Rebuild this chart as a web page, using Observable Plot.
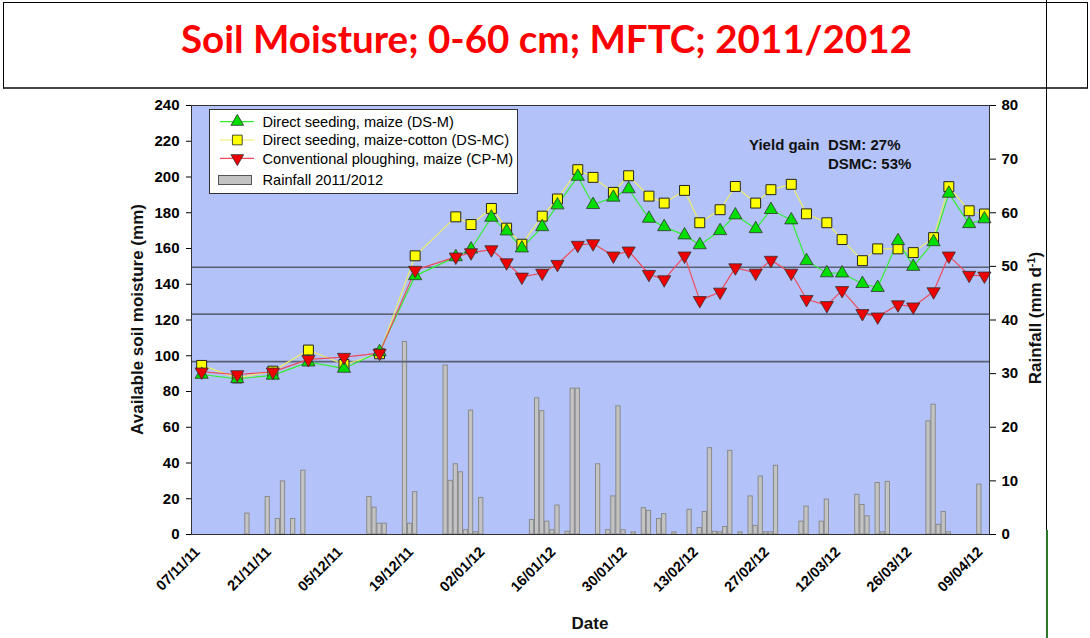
<!DOCTYPE html>
<html><head><meta charset="utf-8">
<script src="https://cdn.jsdelivr.net/npm/d3@7"></script>
<script src="https://cdn.jsdelivr.net/npm/@observablehq/plot@0.6"></script>
<style>
html,body{margin:0;padding:0;background:#fff;}
body{width:1090px;height:638px;overflow:hidden;position:relative;font-family:"Liberation Sans",Arial,sans-serif;}
#titlebox{position:absolute;left:3px;top:2px;width:1085px;height:87px;border:1px solid #000;border-bottom:2px solid #444;box-sizing:border-box;}
#chart{position:absolute;left:0;top:90px;}
#overlay{position:absolute;left:0;top:0;pointer-events:none;}
#vline{position:absolute;left:1046px;top:0;width:1px;height:530px;background:#000;}
#gline{position:absolute;left:1046px;top:530px;width:2px;height:108px;background:#2a7a2a;}
</style></head><body>
<div id="titlebox"></div>
<div id="vline"></div><div id="gline"></div>
<div id="chart"></div>
<svg id="overlay" width="1090" height="638"></svg>
<script>
// ---- data ----
const moistDates = ["2011-11-09","2011-11-16","2011-11-23","2011-11-30","2011-12-07","2011-12-14","2011-12-21","2011-12-29","2012-01-01","2012-01-05","2012-01-08","2012-01-11","2012-01-15","2012-01-18","2012-01-22","2012-01-25","2012-01-29","2012-02-01","2012-02-05","2012-02-08","2012-02-12","2012-02-15","2012-02-19","2012-02-22","2012-02-26","2012-02-29","2012-03-04","2012-03-07","2012-03-11","2012-03-14","2012-03-18","2012-03-21","2012-03-25","2012-03-28","2012-04-01","2012-04-04","2012-04-08","2012-04-11"];
const dsM  = [89.5,87.1,89.0,96.4,92.9,102.2,144.7,155.3,159.6,177.4,169.7,160.2,172.1,184.3,200.3,184.5,188.6,193.3,176.8,172.1,167.5,162.0,169.9,178.7,171.0,181.7,175.9,153.1,146.3,146.2,140.3,138.1,164.3,149.9,163.7,190.8,173.8,176.5];
const dsMC = [94.6,87.6,91.4,103.2,95.1,101.1,155.9,177.7,173.4,182.4,171.4,162.4,178.1,187.7,204.1,199.8,191.4,200.7,189.3,185.4,192.5,174.4,181.7,194.7,185.4,192.9,195.9,179.4,174.4,165.0,153.2,159.8,159.8,157.7,166.1,194.6,181.1,179.3];
const cpM  = [91.0,89.5,91.0,98.0,99.2,101.5,147.9,155.3,157.7,159.4,152.1,144.1,146.3,151.2,161.9,162.8,155.9,158.7,145.6,142.6,155.9,131.0,135.7,149.3,146.3,153.5,146.3,131.6,128.2,136.6,123.7,121.8,128.6,127.4,135.9,155.9,145.1,144.7];

const rainDates = ["2011-11-18","2011-11-22","2011-11-24","2011-11-25","2011-11-27","2011-11-29","2011-12-12","2011-12-13","2011-12-14","2011-12-15","2011-12-19","2011-12-20","2011-12-21","2011-12-27","2011-12-28","2011-12-29","2011-12-30","2011-12-31","2012-01-01","2012-01-02","2012-01-03","2012-01-13","2012-01-14","2012-01-15","2012-01-16","2012-01-17","2012-01-18","2012-01-20","2012-01-21","2012-01-22","2012-01-26","2012-01-28","2012-01-29","2012-01-30","2012-01-31","2012-02-02","2012-02-04","2012-02-05","2012-02-07","2012-02-08","2012-02-10","2012-02-13","2012-02-15","2012-02-16","2012-02-17","2012-02-18","2012-02-19","2012-02-20","2012-02-21","2012-02-23","2012-02-25","2012-02-26","2012-02-27","2012-02-28","2012-02-29","2012-03-01","2012-03-06","2012-03-07","2012-03-10","2012-03-11","2012-03-17","2012-03-18","2012-03-19","2012-03-21","2012-03-22","2012-03-23","2012-03-31","2012-04-01","2012-04-02","2012-04-03","2012-04-04","2012-04-10"];
const rainMm = [3.9,7.0,2.9,9.9,2.9,11.9,7.0,5.0,2.0,2.0,35.9,2.0,7.9,31.5,10.0,13.1,11.6,0.8,23.1,0.4,6.8,2.7,25.4,23.0,2.4,0.8,5.4,0.5,27.2,27.2,13.1,0.8,7.1,23.9,0.8,0.4,4.9,4.4,2.9,3.8,0.4,4.6,1.2,4.2,16.1,0.5,0.4,1.4,15.6,0.4,7.1,1.6,10.8,0.4,0.4,12.8,2.4,5.2,2.4,6.5,7.4,5.5,3.4,9.6,0.4,9.8,21.1,24.2,1.8,4.2,0.4,9.3];

const refLevels = [149.5, 123.3, 96.7];
const xTickLabels = ["07/11/11","21/11/11","05/12/11","19/12/11","02/01/12","16/01/12","30/01/12","13/02/12","27/02/12","12/03/12","26/03/12","09/04/12"];
const yLeftTicks = [0,20,40,60,80,100,120,140,160,180,200,220,240];
const yRightTicks = [0,10,20,30,40,50,60,70,80];
const seriesNames = ["Direct seeding, maize (DS-M)","Direct seeding, maize-cotton (DS-MC)","Conventional ploughing, maize (CP-M)","Rainfall 2011/2012"];
const titleText = "Soil Moisture; 0-60 cm; MFTC; 2011/2012";

// ---- build ----
const parse = d3.utcParse("%Y-%m-%d");
const parseTick = d3.utcParse("%d/%m/%y");
const fmtTick = d3.utcFormat("%d/%m/%y");
const DAY = 864e5;
const RAIN_K = 240 / 80; // right axis -> left axis units

const moist = moistDates.map((d, i) => ({date: parse(d), dsm: dsM[i], dsmc: dsMC[i], cpm: cpM[i]}));
const rain = rainDates.map((d, i) => ({date: parse(d), mm: rainMm[i]}));
const xTicks = xTickLabels.map(parseTick);

const triDown = {
  draw(context, size) {
    const y = -Math.sqrt(size / (Math.sqrt(3) * 3));
    context.moveTo(0, -y * 2);
    context.lineTo(-Math.sqrt(3) * y, y);
    context.lineTo(Math.sqrt(3) * y, y);
    context.closePath();
  }
};

const C = {
  bg: "#b3c3fa",
  gLine: "#33ee33", gFill: "#00dd00",
  yLine: "#eeee66", yFill: "#ffff00",
  rLine: "#f04a5a", rFill: "#ee0000",
  barFill: "#c3c3c3", barStroke: "#8a8a8a",
  mStroke: "#333"
};

const chart = Plot.plot({
  width: 1090,
  height: 548,
  marginTop: 15,
  marginBottom: 104,
  marginLeft: 191,
  marginRight: 101,
  style: {fontFamily: "'Liberation Sans', Arial, sans-serif", fontSize: "15px", fontWeight: "bold", color: "#000", background: "transparent"},
  x: {type: "utc", domain: [parse("2011-11-07"), parse("2012-04-12")]},
  y: {domain: [0, 240]},
  marks: [
    Plot.frame({fill: C.bg}),
    Plot.rectY(rain, {
      x1: d => new Date(+d.date - 0.42 * DAY),
      x2: d => new Date(+d.date + 0.42 * DAY),
      y: d => d.mm * RAIN_K,
      fill: C.barFill, stroke: C.barStroke, strokeWidth: 1
    }),
    Plot.ruleY([refLevels[0], refLevels[2]], {stroke: "#5a6072", strokeWidth: 1.6}),
    Plot.ruleY([refLevels[1]], {stroke: "#222", strokeWidth: 1}),
    Plot.lineY(moist, {x: "date", y: "dsmc", stroke: C.yLine, strokeWidth: 1.2}),
    Plot.lineY(moist, {x: "date", y: "dsm", stroke: C.gLine, strokeWidth: 1.2}),
    Plot.lineY(moist, {x: "date", y: "cpm", stroke: C.rLine, strokeWidth: 1.2}),
    Plot.dot(moist, {x: "date", y: "dsmc", symbol: "square", r: 5.6, fill: C.yFill, stroke: "#222", strokeWidth: 1}),
    Plot.dot(moist, {x: "date", y: "dsm", symbol: "triangle", r: 4.9, fill: C.gFill, stroke: C.mStroke, strokeWidth: 0.8}),
    Plot.dot(moist, {x: "date", y: "cpm", symbol: triDown, r: 4.9, fill: C.rFill, stroke: C.mStroke, strokeWidth: 0.8}),
    Plot.frame({stroke: "#333", strokeWidth: 1}),
    Plot.axisY(yLeftTicks, {anchor: "left", tickSize: 5, tickPadding: 7, label: null, fontSize: 15}),
    Plot.axisY(yRightTicks.map(v => v * RAIN_K), {anchor: "right", tickSize: 6, tickPadding: 6, label: null, tickFormat: v => String(Math.round(v / RAIN_K)), fontSize: 15}),
    Plot.axisX(xTicks, {anchor: "bottom", tickSize: 0, tickPadding: 4, tickRotate: -45, tickFormat: fmtTick, label: null, fontSize: 14.5, dx: 6, dy: 11})
  ]
});
document.getElementById("chart").appendChild(chart);

// ---- overlay: title, legend, annotation, axis titles ----
const ov = d3.select("#overlay");
const FF = "'Liberation Sans', Arial, sans-serif";

ov.append("text").text(titleText)
  .attr("x", 181).attr("y", 53)
  .attr("textLength", 731).attr("lengthAdjust", "spacingAndGlyphs")
  .attr("font-family", "Lato, 'Open Sans', sans-serif").attr("font-weight", "bold")
  .attr("font-size", 38).attr("fill", "#ff0000");

// legend
const lg = ov.append("g");
lg.append("rect").attr("x", 209.5).attr("y", 109.5).attr("width", 308).attr("height", 84)
  .attr("fill", "#fff").attr("stroke", "#333").attr("stroke-width", 1);
const legRows = [
  {y: 121.7, line: C.gLine, fill: C.gFill, sym: d3.symbolTriangle, size: 70, stroke: C.mStroke},
  {y: 140, line: C.yLine, fill: C.yFill, sym: d3.symbolSquare, size: 95, stroke: "#222"},
  {y: 158.3, line: C.rLine, fill: C.rFill, sym: triDown, size: 70, stroke: C.mStroke}
];
legRows.forEach((r, i) => {
  lg.append("line").attr("x1", 220).attr("x2", 254).attr("y1", r.y).attr("y2", r.y)
    .attr("stroke", r.line).attr("stroke-width", 1.2);
  lg.append("path").attr("d", d3.symbol(r.sym, r.size)())
    .attr("transform", `translate(237.3,${r.y})`)
    .attr("fill", r.fill).attr("stroke", r.stroke).attr("stroke-width", 0.8);
  lg.append("text").text(seriesNames[i]).attr("x", 262.5).attr("y", r.y).attr("dy", "0.36em")
    .attr("font-family", FF).attr("font-size", 14.6).attr("fill", "#000");
});
lg.append("rect").attr("x", 218.5).attr("y", 175.5).attr("width", 33).attr("height", 9)
  .attr("fill", C.barFill).attr("stroke", "#555").attr("stroke-width", 1);
lg.append("text").text(seriesNames[3]).attr("x", 262.5).attr("y", 180).attr("dy", "0.36em")
  .attr("font-family", FF).attr("font-size", 14.6).attr("fill", "#000");

// annotation
const ann = (t, x, y) => ov.append("text").text(t).attr("x", x).attr("y", y).attr("dy", "0.36em")
  .attr("font-family", FF).attr("font-weight", "bold").attr("font-size", 15).attr("fill", "#111");
ann("Yield gain", 749, 145);
ann("DSM: 27%", 828, 145);
ann("DSMC: 53%", 828, 164);

// axis titles
ov.append("text").text("Available soil moisture (mm)")
  .attr("transform", "translate(137,319.5) rotate(-90)").attr("text-anchor", "middle").attr("dy", "0.36em")
  .attr("font-family", FF).attr("font-weight", "bold").attr("font-size", 17).attr("fill", "#111");
ov.append("text").text("Date")
  .attr("x", 590).attr("y", 623).attr("text-anchor", "middle").attr("dy", "0.36em")
  .attr("font-family", FF).attr("font-weight", "bold").attr("font-size", 17).attr("fill", "#111");
const rt = ov.append("text")
  .attr("transform", "translate(1035,318) rotate(-90)").attr("text-anchor", "middle").attr("dy", "0.36em")
  .attr("font-family", FF).attr("font-weight", "bold").attr("font-size", 17).attr("fill", "#111");
rt.append("tspan").text("Rainfall (mm d");
rt.append("tspan").text("-1").attr("font-size", 11).attr("dy", "-0.6em");
rt.append("tspan").text(")").attr("dy", "0.38em");
</script>
</body></html>
